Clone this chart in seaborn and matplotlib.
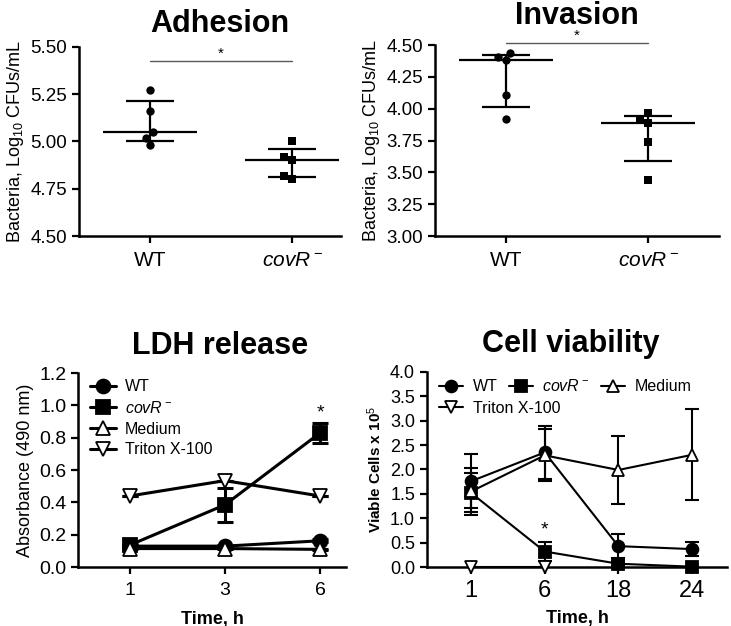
import numpy as np
import pandas as pd
import matplotlib
matplotlib.use("Agg")
import matplotlib.pyplot as plt
import seaborn as sns

sns.set_style("ticks")
plt.rcParams['font.family'] = ['Liberation Sans', 'DejaVu Sans']
plt.rcParams['mathtext.fontset'] = 'custom'
plt.rcParams['mathtext.rm'] = 'Liberation Sans'
plt.rcParams['mathtext.it'] = 'Liberation Sans:italic'
plt.rcParams['mathtext.bf'] = 'Liberation Sans:bold'
plt.rcParams['axes.linewidth'] = 1.8
plt.rcParams['axes.edgecolor'] = 'black'
for k in ['text.color', 'axes.labelcolor', 'xtick.color', 'ytick.color']:
    plt.rcParams[k] = 'black'

# ---- data ----
strains = ['WT', r'$\mathit{covR}^-$']

# adhesion (log10 CFU/mL), individual points
adh_wt = [5.27, 5.16, 5.05, 5.02, 4.98]
adh_cov = [5.00, 4.92, 4.90, 4.82, 4.80]
adh_center = [5.05, 4.90]
adh_lo = [5.00, 4.81]
adh_hi = [5.215, 4.96]
adh_sig = 5.425

# invasion
inv_wt = [4.44, 4.41, 4.38, 4.11, 3.92]
inv_cov = [3.97, 3.92, 3.89, 3.74, 3.44]
inv_center = [4.38, 3.89]
inv_lo = [4.015, 3.59]
inv_hi = [4.425, 3.945]
inv_sig = 4.515

# LDH release
ldh_times = ['1', '3', '6']
ldh_wt = [0.13, 0.13, 0.163]
ldh_wt_err = [0.01, 0.01, 0.01]
ldh_cov = [0.136, 0.385, 0.83]
ldh_cov_err = [0.01, 0.105, 0.062]
ldh_med = [0.115, 0.115, 0.11]
ldh_med_err = [0.005, 0.005, 0.005]
ldh_tri = [0.44, 0.535, 0.44]
ldh_tri_err = [0.0, 0.0, 0.0]

# cell viability (x 10^5)
via_times = ['1', '6', '18', '24']
via_wt = [1.76, 2.35, 0.43, 0.37]
via_wt_err = [0.55, 0.54, 0.24, 0.14]
via_cov = [1.52, 0.32, 0.07, 0.01]
via_cov_err = [0.40, 0.20, 0.05, 0.0]
via_med = [1.55, 2.29, 1.99, 2.30]
via_med_err = [0.48, 0.53, 0.70, 0.93]
via_tri = [0.0, 0.0, np.nan, np.nan]

series_names = ['WT', r'$\mathit{covR}^-$', 'Medium', 'Triton X-100']
series_markers = ['o', 's', '^', 'v']
series_faces = ['black', 'black', 'white', 'white']

fig = plt.figure(figsize=(7.31, 6.26), dpi=100)
ax1 = fig.add_axes([0.108, 0.623, 0.358, 0.302])
ax2 = fig.add_axes([0.595, 0.623, 0.389, 0.305])
ax3 = fig.add_axes([0.107, 0.094, 0.366, 0.310])
ax4 = fig.add_axes([0.584, 0.094, 0.411, 0.312])


def dot_panel(ax, wt, cov, center, lo, hi, sig_y, title, title_x, title_pad, xmax, ylim, yticks):
    df = pd.DataFrame({'strain': [strains[0]] * len(wt) + [strains[1]] * len(cov),
                       'val': wt + cov})
    for s, m in zip(strains, ['o', 's']):
        sns.swarmplot(data=df[df.strain == s], x='strain', y='val', order=strains,
                      marker=m, color='black', size=6, ax=ax, zorder=3)
    pos = np.arange(len(strains))
    center = np.array(center)
    ax.hlines(center, pos - 0.33, pos + 0.33, color='black', lw=1.6, zorder=2)
    ax.errorbar(pos, center, yerr=[center - np.array(lo), np.array(hi) - center],
                fmt='none', ecolor='black', elinewidth=1.6, capsize=17, capthick=1.6, zorder=2)
    ax.plot([0, 1], [sig_y, sig_y], color='0.35', lw=1, clip_on=False)
    ax.annotate('*', xy=(0.5, sig_y), xytext=(0, 0), textcoords='offset points',
                ha='center', va='bottom', fontsize=11, annotation_clip=False)
    ax.set_xlim(-0.5, xmax)
    ax.set_ylim(*ylim)
    ax.set_yticks(yticks)
    ax.set_yticklabels(['%.2f' % t for t in yticks])
    ax.set_xlabel('')
    ax.set_ylabel('Bacteria, Log$_{10}$ CFUs/mL', fontsize=13, labelpad=3)
    ax.set_title(title, fontsize=22, fontweight='bold', x=title_x, pad=title_pad)
    ax.tick_params(axis='y', labelsize=13.5, length=5, width=1.6)
    ax.tick_params(axis='x', labelsize=15, length=5, width=1.6, pad=6)
    sns.despine(ax=ax)


dot_panel(ax1, adh_wt, adh_cov, adh_center, adh_lo, adh_hi, adh_sig, 'Adhesion', 0.54, 11, 1.34,
          (4.5, 5.5), np.arange(4.5, 5.51, 0.25))
dot_panel(ax2, inv_wt, inv_cov, inv_center, inv_lo, inv_hi, inv_sig, 'Invasion', 0.5, 15.5, 1.5,
          (3.0, 4.5), np.arange(3.0, 4.51, 0.25))


def line_panel(ax, times, vals, errs, ms, lw, capsize):
    x = np.arange(len(times))
    for name, m, fc, v, e in zip(series_names, series_markers, series_faces, vals, errs):
        v = np.array(v, dtype=float)
        if e is not None:
            ax.errorbar(x, v, yerr=e, fmt='none', ecolor='black', elinewidth=lw,
                        capsize=capsize, capthick=lw, zorder=2, clip_on=False)
        sns.lineplot(x=x, y=v, ax=ax, color='black', lw=lw, marker=m, markersize=ms,
                     markerfacecolor=fc, markeredgecolor='black', markeredgewidth=1.3,
                     label=name, zorder=3, clip_on=False, legend=False)
    ax.set_xticks(x)
    ax.set_xticklabels(times)
    sns.despine(ax=ax)


# LDH release
line_panel(ax3, ldh_times, [ldh_wt, ldh_cov, ldh_med, ldh_tri],
           [ldh_wt_err, ldh_cov_err, ldh_med_err, ldh_tri_err], 10, 2.2, 5.5)
ax3.set_xlim(-0.54, 2.27)
ax3.set_ylim(0, 1.2)
ax3.set_yticks(np.arange(0, 1.21, 0.2))
ax3.set_yticklabels(['%.1f' % t for t in np.arange(0, 1.21, 0.2)])
ax3.tick_params(axis='y', labelsize=14, length=5, width=1.6)
ax3.tick_params(axis='x', labelsize=14, length=5, width=1.6, pad=6)
ax3.set_ylabel('Absorbance (490 nm)', fontsize=13, labelpad=4)
ax3.set_xlabel('Time, h', fontsize=13, fontweight='bold', labelpad=8)
ax3.set_title('LDH release', fontsize=22, fontweight='bold', x=0.53, pad=14)
ax3.text(2, 0.9, '*', ha='center', va='bottom', fontsize=14)
ax3.legend(loc='upper left', bbox_to_anchor=(0.02, 1.0), frameon=False, fontsize=11.5,
           handlelength=1.6, handletextpad=0.6, labelspacing=0.35, borderaxespad=0)

# Cell viability
line_panel(ax4, via_times, [via_wt, via_cov, via_med, via_tri],
           [via_wt_err, via_cov_err, via_med_err, None], 8.5, 1.5, 5)
ax4.set_xlim(-0.6, 3.48)
ax4.set_ylim(0, 4.0)
ax4.set_yticks(np.arange(0, 4.01, 0.5))
ax4.set_yticklabels(['%.1f' % t for t in np.arange(0, 4.01, 0.5)])
ax4.tick_params(axis='y', labelsize=13, length=5, width=1.6)
ax4.tick_params(axis='x', labelsize=17, length=5, width=1.6, pad=4)
ax4.set_ylabel('Viable Cells x 10$^5$', fontsize=11, fontweight='bold', labelpad=4)
ax4.set_xlabel('Time, h', fontsize=13, fontweight='bold', labelpad=6)
ax4.set_title('Cell viability', fontsize=22, fontweight='bold', x=0.48, pad=14)
ax4.text(1, 0.58, '*', ha='center', va='bottom', fontsize=14)
h, l = ax4.get_legend_handles_labels()
leg_kw = dict(loc='upper left', frameon=False, fontsize=11.5, handlelength=1.5,
              handletextpad=0.6, columnspacing=0.7, borderaxespad=0)
leg1 = ax4.legend(h[:3], l[:3], ncol=3, bbox_to_anchor=(0.02, 1.0), **leg_kw)
ax4.add_artist(leg1)
ax4.legend(h[3:], l[3:], ncol=1, bbox_to_anchor=(0.02, 0.885), **leg_kw)

fig.savefig('out.png', dpi=100)
